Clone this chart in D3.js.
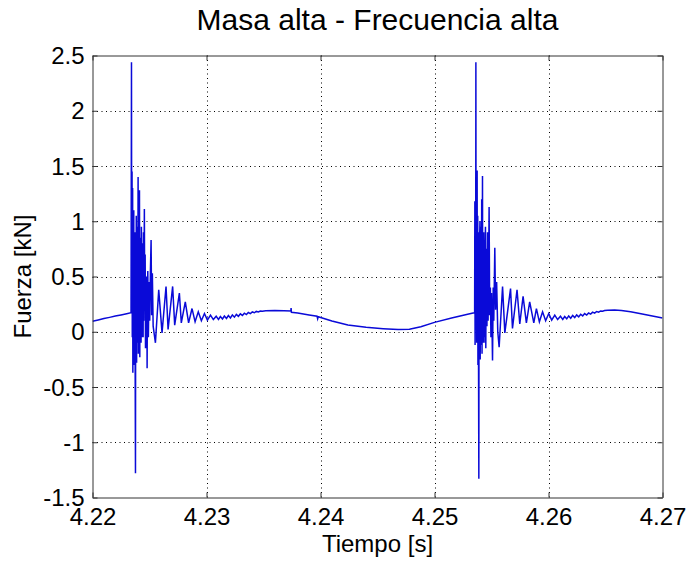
<!DOCTYPE html>
<html>
<head>
<meta charset="utf-8">
<script src="https://cdn.jsdelivr.net/npm/d3@7/dist/d3.min.js"></script>
<style>
  html, body { margin: 0; padding: 0; background: #fff; }
  svg { display: block; }
  text { font-family: "Liberation Sans", Arial, Helvetica, sans-serif; fill: #000; }
</style>
</head>
<body>
<svg id="chart" width="689" height="562"></svg>
<script>
// Axis ticks and labels
const xTicks = [4.22, 4.23, 4.24, 4.25, 4.26, 4.27];
const xTickLabels = ["4.22", "4.23", "4.24", "4.25", "4.26", "4.27"];
const yTicks = [-1.5, -1, -0.5, 0, 0.5, 1, 1.5, 2, 2.5];
const yTickLabels = ["-1.5", "-1", "-0.5", "0", "0.5", "1", "1.5", "2", "2.5"];

// Force signal [kN] versus time [s], sampled in sections
// Baseline before the first impact
const preT = [4.2200, 4.2205, 4.2210, 4.2215, 4.2220, 4.2225, 4.2230, 4.22338];
const preF = [0.095, 0.107, 0.119, 0.130, 0.142, 0.152, 0.163, 0.172];

// First impact and its ringing
const impact1T = [4.22342, 4.22344, 4.22347, 4.22349, 4.22352, 4.22354, 4.22357, 4.22359, 4.22362, 4.22364,
  4.22367, 4.22369, 4.22372, 4.22374, 4.22377, 4.22379, 4.22382, 4.22384, 4.22387, 4.22389,
  4.22392, 4.22394, 4.22397, 4.22400, 4.22402, 4.22405, 4.22407, 4.22410, 4.22412, 4.22415,
  4.22417, 4.22420, 4.22423, 4.22426, 4.22429, 4.22432, 4.22435, 4.22438, 4.22441, 4.22444,
  4.22447, 4.22450, 4.22455, 4.22458, 4.22462, 4.22465, 4.22468, 4.22472, 4.22476, 4.22479,
  4.22482, 4.22485, 4.22490, 4.22496, 4.22502, 4.22508, 4.22514, 4.22519, 4.22525, 4.22532,
  4.22552, 4.22581, 4.22610, 4.22645, 4.22663, 4.22703, 4.22721, 4.22762, 4.22779, 4.22814,
  4.22843, 4.22873, 4.22900, 4.22928, 4.22955, 4.22982, 4.23008, 4.23035, 4.23060, 4.23085];
const impact1F = [2.44, 0.30, 1.45, -0.05, 1.30, -0.37, 0.95, -0.15, 1.10, -0.30,
  0.85, 0.10, 0.90, -0.25, -1.28, 0.60, -0.20, 1.05, -0.28, 0.95,
  -0.10, 0.80, -0.05, 1.40, -0.20, 1.15, -0.15, 0.95, 1.28, -0.23,
  0.85, 0.05, 0.75, -0.10, 0.95, -0.05, 0.80, 0.10, 0.70, -0.05,
  0.90, 0.10, 1.11, 0.20, 0.70, -0.15, 0.45, -0.10, 0.50, -0.33,
  0.40, 0.55, -0.05, 0.45, 0.10, 0.55, 0.83, 0.15, 0.53, 0.05,
  -0.10, 0.38, -0.01, 0.41, 0.02, 0.41, 0.06, 0.35, 0.08, 0.27,
  0.08, 0.21, 0.09, 0.18, 0.10, 0.165, 0.105, 0.15, 0.11, 0.14];

// Small residual ripple and slow swing between impacts
const between1T = [4.23105, 4.23122, 4.23140, 4.23157, 4.23175, 4.23192, 4.23210, 4.23227, 4.23245, 4.23262,
  4.23280, 4.23297, 4.23315, 4.23332, 4.23350, 4.23367, 4.23385, 4.23402, 4.23420, 4.23437,
  4.23455, 4.23472, 4.23490, 4.2352, 4.2360, 4.2368, 4.23740, 4.23742, 4.23745, 4.2380,
  4.2390, 4.23970, 4.23975, 4.23980, 4.2410, 4.2424, 4.2440, 4.2455, 4.2468, 4.2478,
  4.2488, 4.2500, 4.2515, 4.2530, 4.25348];
const between1F = [0.112, 0.138, 0.116, 0.142, 0.120, 0.147, 0.125, 0.152, 0.132, 0.157,
  0.140, 0.162, 0.148, 0.168, 0.156, 0.174, 0.164, 0.179, 0.172, 0.184,
  0.180, 0.188, 0.186, 0.190, 0.192, 0.190, 0.188, 0.215, 0.176, 0.170,
  0.152, 0.140, 0.118, 0.136, 0.098, 0.062, 0.040, 0.028, 0.020, 0.022,
  0.045, 0.085, 0.125, 0.160, 0.172];

// Second impact and its ringing
const impact2T = [4.25352, 4.25354, 4.25356, 4.25359, 4.25361, 4.25363, 4.25365, 4.25368, 4.25370, 4.25374,
  4.25376, 4.25379, 4.25381, 4.25384, 4.25386, 4.25389, 4.25391, 4.25394, 4.25396, 4.25399,
  4.25401, 4.25404, 4.25406, 4.25409, 4.25411, 4.25414, 4.25417, 4.25421, 4.25423, 4.25426,
  4.25429, 4.25432, 4.25435, 4.25438, 4.25441, 4.25444, 4.25447, 4.25450, 4.25453, 4.25456,
  4.25460, 4.25465, 4.25470, 4.25475, 4.25479, 4.25484, 4.25490, 4.25495, 4.25500, 4.25509,
  4.25515, 4.25520, 4.25529, 4.25536, 4.25545, 4.25555, 4.25567, 4.25597, 4.25617, 4.25667,
  4.25684, 4.25724, 4.25748, 4.25777, 4.25806, 4.25835, 4.25871, 4.25894, 4.25920, 4.25948,
  4.25975, 4.26002, 4.26028, 4.26055, 4.26080, 4.26105];
const impact2F = [0.172, 1.18, -0.12, 0.90, 0.10, 2.44, 0.20, 1.10, -0.10, 1.46,
  0.00, 1.05, -0.30, 0.90, -0.20, -1.33, 0.70, -0.15, 0.85, 1.00,
  -0.25, 0.95, -0.05, 0.80, -0.12, 1.20, -0.20, 1.41, 0.05, 0.85,
  -0.10, 0.90, -0.10, 0.80, -0.05, 0.70, 0.95, -0.15, 0.60, 0.75,
  0.05, 0.90, 0.10, 0.55, 1.13, 0.15, 0.40, -0.05, 0.35, -0.26,
  0.40, 0.10, 0.76, 0.20, 0.45, 0.00, -0.14, 0.41, -0.01, 0.39,
  0.03, 0.38, 0.07, 0.32, 0.08, 0.27, 0.08, 0.21, 0.09, 0.18,
  0.10, 0.165, 0.105, 0.15, 0.11, 0.14];

// Residual ripple after the second impact up to the end of the window
const between2T = [4.26125, 4.26142, 4.26160, 4.26177, 4.26195, 4.26212, 4.26230, 4.26247, 4.26265, 4.26282,
  4.26300, 4.26317, 4.26335, 4.26352, 4.26370, 4.26387, 4.26405, 4.26422, 4.26440, 4.26457,
  4.26475, 4.26492, 4.2652, 4.2658, 4.2664, 4.2672, 4.2680, 4.2690, 4.2700];
const between2F = [0.112, 0.138, 0.117, 0.143, 0.122, 0.148, 0.128, 0.153, 0.135, 0.158,
  0.143, 0.164, 0.151, 0.170, 0.160, 0.177, 0.168, 0.183, 0.177, 0.188,
  0.185, 0.192, 0.194, 0.196, 0.192, 0.180, 0.165, 0.145, 0.125];

const tiempo = [].concat(preT, impact1T, between1T, impact2T, between2T);
const fuerza = [].concat(preF, impact1F, between1F, impact2F, between2F);
const series = tiempo.map((t, i) => ({ t: t, f: fuerza[i] }));

// Layout
const plot = { left: 92.5, right: 662.5, top: 55.5, bottom: 497.5 };

const svg = d3.select("#chart");

const x = d3.scaleLinear().domain([4.22, 4.27]).range([plot.left, plot.right]);
const y = d3.scaleLinear().domain([-1.5, 2.5]).range([plot.bottom, plot.top]);

// Dotted grid
const grid = svg.append("g").attr("stroke", "#000").attr("stroke-width", 1)
  .attr("stroke-dasharray", "1,3.5").attr("fill", "none");
grid.selectAll("line.gx").data(xTicks.slice(1, -1)).join("line")
  .attr("x1", d => Math.round(x(d)) + 0.5).attr("x2", d => Math.round(x(d)) + 0.5)
  .attr("y1", plot.bottom).attr("y2", plot.top);
grid.selectAll("line.gy").data(yTicks.slice(1, -1)).join("line")
  .attr("y1", d => Math.round(y(d)) + 0.5).attr("y2", d => Math.round(y(d)) + 0.5)
  .attr("x1", plot.left).attr("x2", plot.right);

// Clip for the signal
svg.append("clipPath").attr("id", "plotclip").append("rect")
  .attr("x", plot.left).attr("y", plot.top)
  .attr("width", plot.right - plot.left).attr("height", plot.bottom - plot.top);

const line = d3.line().x(d => x(d.t)).y(d => y(d.f));
svg.append("path").datum(series)
  .attr("clip-path", "url(#plotclip)")
  .attr("d", line)
  .attr("fill", "none")
  .attr("stroke", "#0a0ad8")
  .attr("stroke-width", 1.5)
  .attr("stroke-linejoin", "miter");

// Axes with inward ticks on all four sides
const tickLen = 5;
const fmtX = d => xTickLabels[xTicks.indexOf(d)];
const fmtY = d => yTickLabels[yTicks.indexOf(d)];

function styleAxis(g) {
  g.select(".domain").attr("stroke", "#333").attr("stroke-width", 1);
  g.selectAll(".tick line").attr("stroke", "#333");
  g.selectAll(".tick text").attr("font-size", 24).attr("fill", "#000")
    .attr("font-family", '"Liberation Sans", Arial, sans-serif');
}

svg.append("g").attr("transform", `translate(0,${plot.bottom})`)
  .call(d3.axisBottom(x).tickValues(xTicks).tickFormat(fmtX).tickSizeInner(-tickLen).tickSizeOuter(0).tickPadding(2))
  .call(styleAxis)
  .call(g => g.selectAll(".tick text").attr("dy", "0").attr("y", 27));

svg.append("g").attr("transform", `translate(0,${plot.top})`)
  .call(d3.axisTop(x).tickValues(xTicks).tickFormat("").tickSizeInner(-tickLen).tickSizeOuter(0))
  .call(styleAxis);

svg.append("g").attr("transform", `translate(${plot.left},0)`)
  .call(d3.axisLeft(y).tickValues(yTicks).tickFormat(fmtY).tickSizeInner(-tickLen).tickSizeOuter(0).tickPadding(8))
  .call(styleAxis)
  .call(g => g.selectAll(".tick text").attr("dy", "0.34em"));

svg.append("g").attr("transform", `translate(${plot.right},0)`)
  .call(d3.axisRight(y).tickValues(yTicks).tickFormat("").tickSizeInner(-tickLen).tickSizeOuter(0))
  .call(styleAxis);

// Title and axis labels
svg.append("text")
  .attr("x", (plot.left + plot.right) / 2).attr("y", 30)
  .attr("text-anchor", "middle").attr("font-size", 30)
  .text("Masa alta - Frecuencia alta");

svg.append("text")
  .attr("x", (plot.left + plot.right) / 2).attr("y", 552)
  .attr("text-anchor", "middle").attr("font-size", 24)
  .text("Tiempo [s]");

svg.append("text")
  .attr("transform", `translate(31,${(plot.top + plot.bottom) / 2}) rotate(-90)`)
  .attr("text-anchor", "middle").attr("font-size", 24)
  .text("Fuerza [kN]");
</script>
</body>
</html>
